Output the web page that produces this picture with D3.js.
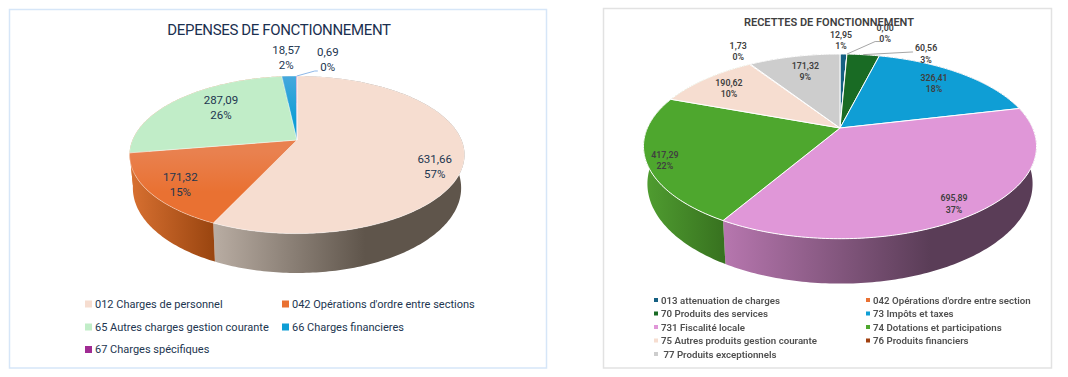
<!DOCTYPE html>
<html>
<head>
<meta charset="utf-8">
<script src="https://cdn.jsdelivr.net/npm/d3@7"></script>
<style>
  html, body { margin: 0; padding: 0; background: #fff; }
  svg { display: block; filter: blur(0.35px); }
  text { font-family: Roboto, sans-serif; }
</style>
</head>
<body>
<div id="chart"></div>
<script>
// values
const depCategories = ["012 Charges de personnel", "042 Opérations d'ordre entre sections", "65 Autres charges gestion courante", "66 Charges financieres", "67 Charges spécifiques"];
const depValues = [631.66, 171.32, 287.09, 18.57, 0.69];
const depPercents = ["57%", "15%", "26%", "2%", "0%"];

const recCategories = ["013 attenuation de charges", "042 Opérations d'ordre entre section", "70 Produits des services", "73 Impôts et taxes", "731 Fiscalité locale", "74 Dotations et participations", "75 Autres produits gestion courante", "76 Produits financiers", " 77 Produits exceptionnels"];
const recValues = [12.95, 0.0, 60.56, 326.41, 695.89, 417.29, 190.62, 1.73, 171.32];
const recPercents = ["1%", "0%", "3%", "18%", "37%", "22%", "10%", "0%", "9%"];

// slice colours
const depColors = ["#f6ddd0", "#e97132", "#c1edc8", "#0f9ed5", "#a02b93"];
const recColors = ["#156082", "#e97132", "#196b24", "#0f9ed5", "#e097d8", "#4ea72e", "#f6ddd0", "#a0400f", "#cdcdcd"];

const comma = d3.formatLocale({ decimal: ",", thousands: " ", grouping: [3], currency: ["", ""] }).format(".2f");

const svg = d3.select("#chart").append("svg").attr("width", 1068).attr("height", 377);
const defs = svg.append("defs");

function drawPie(opt) {
  const g = svg.append("g");

  g.append("rect")
    .attr("x", opt.box[0]).attr("y", opt.box[1])
    .attr("width", opt.box[2]).attr("height", opt.box[3])
    .attr("fill", "#fff")
    .attr("stroke", opt.boxColor)
    .attr("stroke-width", 1.5);

  // perspective disc: circle seen from above, apex sits behind the ellipse centre
  const project = (a, r, lower) => {
    const u = r * Math.sin(a), v = -r * Math.cos(a);
    const w = 1 - opt.k * v;
    const x = opt.R * u / w, y = opt.S * v / w;
    if (!lower) return [opt.cx + x, opt.cy + y];
    return [opt.cx + x * 0.98, opt.cy + y + opt.depth / w];
  };

  const slices = d3.pie().sort(null).value((d) => d.value)(
    opt.values.map((value, i) => ({ value, i }))
  );

  const line = d3.line();
  const rim = (s, lower) => {
    const n = Math.max(2, Math.ceil((s.endAngle - s.startAngle) * 60));
    return d3.range(n + 1).map((j) =>
      project(s.startAngle + ((s.endAngle - s.startAngle) * j) / n, 1, lower)
    );
  };

  // side wall first, top face then hides the back part of it
  slices.forEach((s) => {
    const top = rim(s, false);
    const bottom = rim(s, true).reverse();
    const id = `${opt.id}-wall-${s.data.i}`;
    const wall = opt.walls[s.data.i];
    const grad = defs.append("linearGradient").attr("id", id)
      .attr("gradientUnits", "userSpaceOnUse")
      .attr("x1", wall[0]).attr("x2", wall[1]).attr("y1", 0).attr("y2", 0);
    grad.append("stop").attr("offset", 0).attr("stop-color", wall[2]);
    grad.append("stop").attr("offset", 1).attr("stop-color", wall[3]);
    g.append("path")
      .attr("d", line(top.concat(bottom)) + "Z")
      .attr("fill", `url(#${id})`);
  });

  // top faces
  slices.forEach((s) => {
    let fill = opt.colors[s.data.i];
    const fade = opt.fades[s.data.i];
    if (fade) {
      const id = `${opt.id}-face-${s.data.i}`;
      const grad = defs.append("linearGradient").attr("id", id)
        .attr("gradientUnits", "userSpaceOnUse")
        .attr("x1", 0).attr("x2", 0).attr("y1", fade[0]).attr("y2", fade[1]);
      grad.append("stop").attr("offset", 0).attr("stop-color", fade[2]);
      grad.append("stop").attr("offset", 1).attr("stop-color", fill);
      fill = `url(#${id})`;
    }
    g.append("path")
      .attr("d", line([[opt.cx, opt.cy]].concat(rim(s, false))) + "Z")
      .attr("fill", fill)
      .attr("stroke", "#fff")
      .attr("stroke-width", opt.sliceLine)
      .attr("stroke-linejoin", "round");
  });

  // title
  g.append("text")
    .attr("x", opt.titleX).attr("y", opt.titleY)
    .attr("text-anchor", "middle")
    .attr("fill", opt.titleColor)
    .attr("font-size", opt.titleSize)
    .attr("font-weight", opt.weight)
    .attr("letter-spacing", opt.titleSpacing)
    .text(opt.title);

  // leader lines and data labels
  slices.forEach((s, i) => {
    const mid = (s.startAngle + s.endAngle) / 2;
    const p = project(mid, 0.7, false);
    const x = p[0] + opt.nudge[i][0], y = p[1] + opt.nudge[i][1];
    if (opt.leaders[i]) {
      const start = project(mid, 1, false);
      const elbow = [x + opt.leaders[i][0], y + opt.leaders[i][1]];
      g.append("path")
        .attr("d", line([start, elbow, [elbow[0] + opt.leaders[i][2], elbow[1]]]))
        .attr("fill", "none")
        .attr("stroke", opt.leaderColor)
        .attr("stroke-width", 1);
    }
    const label = g.append("text")
      .attr("text-anchor", "middle")
      .attr("fill", opt.labelColor)
      .attr("font-size", opt.labelSize)
      .attr("font-weight", opt.weight);
    label.append("tspan").attr("x", x).attr("y", y - opt.labelGap / 2 + opt.labelSize * 0.35)
      .text(comma(s.data.value));
    label.append("tspan").attr("x", x).attr("y", y + opt.labelGap / 2 + opt.labelSize * 0.35)
      .text(opt.percents[i]);
  });

  // legend, filled row by row
  const item = g.selectAll(".legend-item")
    .data(opt.categories)
    .join("g")
    .attr("class", "legend-item")
    .attr("transform", (d, i) =>
      `translate(${opt.legendX[i % 2]},${opt.legendY[Math.floor(i / 2)]})`);
  item.append("rect")
    .attr("x", 0).attr("y", -opt.swatch / 2)
    .attr("width", opt.swatch).attr("height", opt.swatch)
    .attr("fill", (d, i) => opt.colors[i]);
  item.append("text")
    .attr("x", opt.swatch + opt.legendGap)
    .attr("y", opt.legendSize * 0.36)
    .attr("fill", opt.legendColor)
    .attr("font-size", opt.legendSize)
    .attr("font-weight", opt.weight)
    .attr("xml:space", "preserve")
    .text((d) => d);
}

drawPie({
  id: "dep",
  values: depValues, percents: depPercents, categories: depCategories, colors: depColors,
  box: [9.5, 9.5, 537, 358.5], boxColor: "#d6e6f8",
  cx: 297, cy: 140, R: 164.5, S: 76, k: 0.188, depth: 32,
  walls: [
    [215, 365, "#b8aca2", "#5f554b"],
    [133, 216, "#d66f30", "#98440f"],
    [130, 216, "#d66f30", "#d66f30"],
    [130, 216, "#0b76a0", "#0b76a0"],
    [130, 216, "#78206e", "#78206e"]
  ],
  fades: [null, [152, 192, "#e9814f"], null, [76, 120, "#45a8dd"], null],
  sliceLine: 0.4,
  title: "DEPENSES DE FONCTIONNEMENT", titleX: 279, titleY: 35, titleSize: 15, titleSpacing: -0.35, titleColor: "#1b3050",
  weight: 400,
  labelColor: "#223650", labelSize: 11.5, labelGap: 15,
  nudge: [[22, 15], [-17, 9.5], [9, -3], [-5, -36], [31, -33.5]],
  leaders: [null, null, null, null, [-13, 11.5, 3]],
  leaderColor: "#8fb8e8",
  legendX: [85, 282], legendY: [304, 327, 349.5],
  swatch: 7, legendGap: 3, legendSize: 11, legendColor: "#223650"
});

drawPie({
  id: "rec",
  values: recValues, percents: recPercents, categories: recCategories, colors: recColors,
  box: [603.5, 8.5, 448, 359.5], boxColor: "#e2e2e2",
  cx: 840, cy: 128, R: 192.6, S: 88.7, k: 0.1987, depth: 36,
  walls: [
    [840, 900, "#0e4058", "#0e4058"],
    [840, 900, "#a04e22", "#a04e22"],
    [840, 900, "#114a19", "#114a19"],
    [840, 900, "#5a3d57", "#5a3d57"],
    [725, 930, "#b676ae", "#5a3d57"],
    [647, 726, "#4f9c30", "#37711f"],
    [640, 726, "#4f9c30", "#4f9c30"],
    [640, 726, "#702c0a", "#702c0a"],
    [640, 726, "#8f8f8f", "#8f8f8f"]
  ],
  fades: recValues.map(() => null),
  sliceLine: 1,
  title: "RECETTES DE FONCTIONNEMENT", titleX: 829, titleY: 26, titleSize: 11, titleSpacing: 0, titleColor: "#404040",
  weight: 600,
  labelColor: "#404040", labelSize: 8.8, labelGap: 11.5,
  nudge: [[-1.6, -33], [40, -40], [69, -20], [6.6, -5], [23.6, 20], [-42, 10.4], [-14, -4], [-36, -30], [-1, -4]],
  leaders: [null, [-10, 8, 5], [-14, -2, 1], null, null, null, null, null, null],
  leaderColor: "#a6a6a6",
  legendX: [654, 866], legendY: [300, 313.5, 327, 340.5, 354],
  swatch: 4, legendGap: 3, legendSize: 9.7, legendColor: "#505050"
});
</script>
</body>
</html>
